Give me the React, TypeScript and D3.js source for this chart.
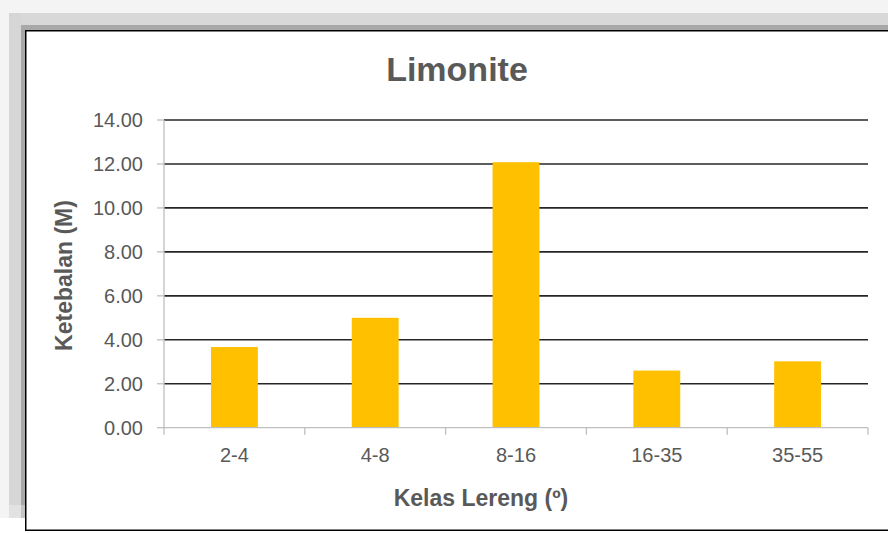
import React from "react";
import * as d3 from "d3";

const categories = ["2-4", "4-8", "8-16", "16-35", "35-55"];
const values = [3.67, 5.0, 12.08, 2.6, 3.02];
const yTicks = [0, 2, 4, 6, 8, 10, 12, 14];
const title = "Limonite";
const yTitle = "Ketebalan (M)";
const xTitle = "Kelas Lereng (º)";

const W = 888;
const H = 533;
const left = 164;
const right = 868;
const top = 120;
const bottom = 427.7;
const textColor = "#595959";
const font = "Arial, 'Liberation Sans', sans-serif";

export default function App() {
  const x = d3.scaleBand<string>().domain(categories).range([left, right]).paddingInner(0.667).paddingOuter(0.3335);
  const xb = d3.scaleBand<string>().domain(categories).range([left, right]);
  const y = d3.scaleLinear().domain([0, 14]).range([bottom, top]);

  return (
    <svg width={W} height={H} style={{ position: "absolute", left: 0, top: 0, background: "#fff" }} fontFamily={font}>
      {/* shadow strips */}
      <rect x={0} y={0} width={W} height={13} fill="#f4f4f4" />
      <rect x={0} y={0} width={9} height={518} fill="#f4f4f4" />
      <rect x={9} y={13} width={W - 9} height={12} fill="#d8d8d8" />
      <rect x={9} y={13} width={12} height={492} fill="#d6d6d6" />
      <rect x={9} y={505} width={12} height={13} fill="#e2e2e2" />
      <rect x={21} y={25} width={W - 21} height={5} fill="#a8a8a8" />
      <rect x={21} y={25} width={4} height={480} fill="#a8a8a8" />
      <rect x={21} y={505} width={4} height={13} fill="#c4c4c4" />
      <rect x={25.75} y={30.75} width={W + 10} height={499.5} fill="#fff" stroke="#000" strokeWidth={1.5} />

      {/* gridlines */}
      {yTicks.filter((t) => t > 0).map((t) => (
        <line key={"g" + t} x1={left} x2={right} y1={y(t)} y2={y(t)} stroke="#262626" strokeWidth={1.6} />
      ))}

      {/* bars */}
      {categories.map((c, i) => (
        <rect key={c} x={x(c)} y={y(values[i])} width={x.bandwidth()} height={bottom - y(values[i])} fill="#FFC000" />
      ))}

      {/* y axis */}
      <line x1={left} x2={left} y1={top} y2={bottom} stroke="#bfbfbf" strokeWidth={1.3} />
      {yTicks.map((t) => (
        <g key={"yt" + t}>
          <line x1={left - 7} x2={left} y1={y(t)} y2={y(t)} stroke="#bfbfbf" strokeWidth={1.3} />
          <text x={143} y={y(t)} dy="0.35em" textAnchor="end" fontSize={20} fill={textColor}>
            {t.toFixed(2)}
          </text>
        </g>
      ))}

      {/* x axis */}
      <line x1={left} x2={right} y1={bottom} y2={bottom} stroke="#bfbfbf" strokeWidth={1.3} />
      {[...categories.map((c) => xb(c) as number), right].map((v, i) => (
        <line key={"xt" + i} x1={v} x2={v} y1={bottom} y2={bottom + 7} stroke="#bfbfbf" strokeWidth={1.3} />
      ))}
      {categories.map((c) => (
        <text key={"xl" + c} x={(xb(c) as number) + xb.bandwidth() / 2} y={462} textAnchor="middle" fontSize={20} fill={textColor}>
          {c}
        </text>
      ))}

      {/* titles */}
      <text x={457} y={81} textAnchor="middle" fontSize={34} fontWeight="bold" fill={textColor}>
        {title}
      </text>
      <text x={481} y={506} textAnchor="middle" fontSize={23} fontWeight="bold" fill={textColor}>
        {xTitle}
      </text>
      <text transform={`translate(72,275.5) rotate(-90)`} textAnchor="middle" fontSize={23} fontWeight="bold" fill={textColor}>
        {yTitle}
      </text>
    </svg>
  );
}
